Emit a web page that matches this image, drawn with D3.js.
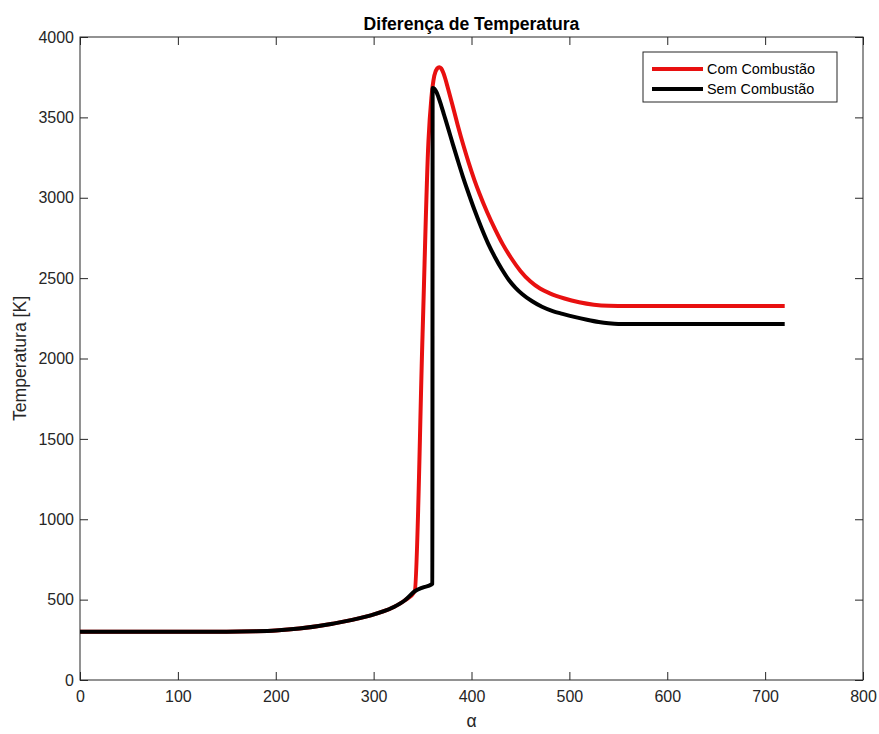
<!DOCTYPE html>
<html>
<head>
<meta charset="utf-8">
<script src="https://cdn.jsdelivr.net/npm/d3@7"></script>
<style>
	body { margin: 0; background: #fff; }
	svg { display: block; font-family: "Liberation Sans", Arial, Helvetica, sans-serif; }
	.tick-label { font-size: 16px; fill: #262626; }
</style>
</head>
<body>
<svg id="chart" width="879" height="734"></svg>
<script>
// dados
var comAlpha = [0, 100, 150, 180, 200, 224, 258, 292, 320, 332, 342, 350, 356, 359, 362, 365, 367, 369, 371, 373, 376, 380, 386, 392, 397, 403, 408, 416, 424, 432, 440, 450, 460, 470, 480, 495, 510, 525, 540, 550, 720];
var comTemp = [300, 300, 300, 303, 308, 320, 350, 394, 452, 496, 552, 2150, 3350, 3620, 3760, 3805, 3812, 3805, 3780, 3745, 3680, 3590, 3450, 3320, 3220, 3110, 3028, 2910, 2805, 2710, 2630, 2545, 2480, 2435, 2405, 2373, 2350, 2335, 2328, 2327, 2327];

var semAlpha = [0, 100, 150, 180, 200, 224, 258, 292, 320, 332, 342, 350, 359, 360, 360.3, 362, 364, 366, 369, 372, 376, 381, 386, 391, 396, 403, 410, 417, 424, 431, 438, 445, 452, 462, 472, 483, 493, 505, 518, 530, 540, 550, 720];
var semTemp = [300, 300, 300, 303, 308, 320, 350, 394, 452, 496, 552, 575, 594, 600, 3683, 3678, 3660, 3630, 3575, 3515, 3435, 3332, 3232, 3135, 3045, 2925, 2815, 2715, 2630, 2555, 2490, 2440, 2400, 2356, 2322, 2295, 2278, 2259, 2241, 2227, 2219, 2215, 2215];

var xTicks = [0, 100, 200, 300, 400, 500, 600, 700, 800];
var yTicks = [0, 500, 1000, 1500, 2000, 2500, 3000, 3500, 4000];
var seriesNames = ["Com Combustão", "Sem Combustão"];
var seriesColors = ["#e81010", "#000000"];

function draw() {
	var svg = d3.select("#chart");
	var left = 80, right = 863, plotTop = 37, bottom = 680;
	var tickLen = 8;
	var axisColor = "#262626";

	var x = d3.scaleLinear().domain([0, 800]).range([left, right]);
	var y = d3.scaleLinear().domain([0, 4000]).range([bottom, plotTop]);

	//caixa dos eixos
	svg.append("rect")
		.attr("x", left)
		.attr("y", plotTop)
		.attr("width", right - left)
		.attr("height", bottom - plotTop)
		.attr("fill", "none")
		.attr("stroke", axisColor)
		.attr("stroke-width", 1);

	//eixo x (embaixo e em cima)
	var gx = svg.append("g").attr("transform", "translate(0," + bottom + ")")
		.call(d3.axisBottom(x).tickValues(xTicks).tickSizeInner(-tickLen).tickSizeOuter(0).tickPadding(6));
	var gxTop = svg.append("g").attr("transform", "translate(0," + plotTop + ")")
		.call(d3.axisTop(x).tickValues(xTicks).tickSizeInner(-tickLen).tickSizeOuter(0).tickFormat(""));

	//eixo y (esquerda e direita)
	var gy = svg.append("g").attr("transform", "translate(" + left + ",0)")
		.call(d3.axisLeft(y).tickValues(yTicks).tickFormat(d3.format("d")).tickSizeInner(-tickLen).tickSizeOuter(0).tickPadding(6));
	var gyRight = svg.append("g").attr("transform", "translate(" + right + ",0)")
		.call(d3.axisRight(y).tickValues(yTicks).tickSizeInner(-tickLen).tickSizeOuter(0).tickFormat(""));

	[gx, gxTop, gy, gyRight].forEach(function(g) {
		g.attr("font-size", null).attr("font-family", null);
		g.select(".domain").remove();
		g.selectAll(".tick line").attr("stroke", axisColor);
		g.selectAll(".tick text")
			.attr("class", "tick-label")
			.attr("fill", axisColor);
	});
	gx.selectAll(".tick text").attr("dy", "1em");

	//curvas
	var line = d3.line()
		.x(function(d) { return x(d[0]); })
		.y(function(d) { return y(d[1]); })
		.curve(d3.curveMonotoneX);

	var series = [
		d3.zip(comAlpha, comTemp),
		d3.zip(semAlpha, semTemp)
	];

	series.forEach(function(pts, i) {
		svg.append("path")
			.datum(pts)
			.attr("d", line)
			.attr("fill", "none")
			.attr("stroke", seriesColors[i])
			.attr("stroke-width", 4)
			.attr("stroke-linejoin", "round");
	});

	//titulo e rotulos
	svg.append("text")
		.attr("x", (left + right) / 2)
		.attr("y", 30)
		.attr("text-anchor", "middle")
		.style("font-size", "17.6px")
		.style("font-weight", "bold")
		.style("fill", "#000")
		.text("Diferença de Temperatura");

	svg.append("text")
		.attr("x", (left + right) / 2)
		.attr("y", 727)
		.attr("text-anchor", "middle")
		.style("font-size", "17.6px")
		.style("fill", axisColor)
		.text("α");

	svg.append("text")
		.attr("transform", "translate(26," + (plotTop + bottom) / 2 + ") rotate(-90)")
		.attr("text-anchor", "middle")
		.style("font-size", "17.6px")
		.style("fill", axisColor)
		.text("Temperatura [K]");

	//legenda
	var lg = svg.append("g").attr("transform", "translate(643,52)");
	lg.append("rect")
		.attr("width", 194)
		.attr("height", 50)
		.attr("fill", "#fff")
		.attr("stroke", axisColor)
		.attr("stroke-width", 1);
	seriesNames.forEach(function(name, i) {
		var yy = 17 + i * 20;
		lg.append("line")
			.attr("x1", 9)
			.attr("x2", 60)
			.attr("y1", yy)
			.attr("y2", yy)
			.attr("stroke", seriesColors[i])
			.attr("stroke-width", 4);
		lg.append("text")
			.attr("x", 64)
			.attr("y", yy)
			.attr("dy", "0.35em")
			.style("font-size", "14.4px")
			.style("fill", "#000")
			.text(name);
	});
}

draw();
</script>
</body>
</html>
